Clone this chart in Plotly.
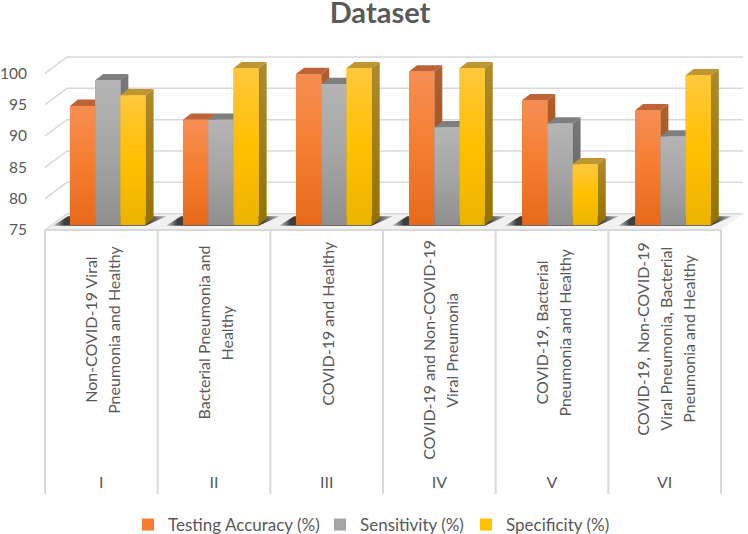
import numpy as np
import plotly.graph_objects as go

roman = ["I", "II", "III", "IV", "V", "VI"]
description_lines = [
    ["Non-COVID-19 Viral", "Pneumonia and Healthy"],
    ["Bacterial Pneumonia and", "Healthy"],
    ["COVID-19 and Healthy"],
    ["COVID-19 and Non-COVID-19", "Viral Pneumonia"],
    ["COVID-19, Bacterial", "Pneumonia and Healthy"],
    ["COVID-19, Non-COVID-19", "Viral Pneumonia, Bacterial", "Pneumonia and Healthy"],
]
series_names = ["Testing Accuracy (%)", "Sensitivity (%)", "Specificity (%)"]
testing_accuracy = [94.0, 91.8, 99.1, 99.5, 94.9, 93.3]
sensitivity = [98.1, 91.8, 97.5, 90.6, 91.2, 89.1]
specificity = [95.7, 100.0, 100.0, 100.0, 84.7, 98.9]
y_ticks = [75, 80, 85, 90, 95, 100]

series_values = [testing_accuracy, sensitivity, specificity]
front_scales = [
    [[0, "#E8691A"], [0.5, "#F57D2F"], [1, "#F58E54"]],
    [[0, "#8F8F8F"], [0.5, "#A5A5A5"], [1, "#B5B5B5"]],
    [[0, "#EBB400"], [0.5, "#FFC000"], [1, "#FFC83D"]],
]
side_scales = [
    [[0, "#964A1B"], [1, "#B0602E"]],
    [[0, "#606060"], [1, "#787878"]],
    [[0, "#947200"], [1, "#AF8A2C"]],
]
top_colors = ["#BD6337", "#7F7F7F", "#BF9630"]
legend_colors = ["#F57D2F", "#A5A5A5", "#FFC000"]
TEXT = "#595959"
GRID = "#D9D9D9"
FONT = "Lato"

# Pixel scales of the two planes (front axis plane, and the plane the bars stand on)
W, H = 748, 534
L, T, B = 44, 40, 40
PY = 6.268
PX_AXIS = 112.67
PX_BAR = 113.05
px_bottom = H - B
label_center_px = [330, 333, 323, 350, 333, 339]
LINE_PITCH = 23
legend_text_px = [168, 360, 506]


def y_range(zero_px):
    return [75 + (zero_px - px_bottom) / PY, 75 + (zero_px - T) / PY]


x_range = [-0.5 - 1 / PX_AXIS, -0.5 + (W - L - 1) / PX_AXIS]
x2_range = [(L - 107.75) / PX_BAR, (W - 107.75) / PX_BAR]
bargap = 0.331
bar_w = (1 - bargap) / 3
bar_dx = 8 / PX_BAR
bar_dy = 6.3 / PY
wall_dx = 22 / PX_AXIS
wall_dy = 16.3 / PY

fig = go.Figure()
n = len(roman)
left, right = -0.5, n - 0.5


def poly(x, y, xa, ya, **kw):
    fig.add_trace(go.Scatter(x=x, y=y, xaxis=xa, yaxis=ya, mode="none", fill="toself",
                             showlegend=False, hoverinfo="skip", **kw))


# floor
poly([left, right, right + wall_dx, left + wall_dx, left],
     [75, 75, 75 + wall_dy, 75 + wall_dy, 75], "x", "y", fillcolor="#F1F1F1")

# wall gridlines and axis tick labels
gx, gy = [], []
for v in y_ticks:
    gx += [left, left + wall_dx, right + wall_dx, None]
    gy += [v, v + wall_dy, v + wall_dy, None]
fig.add_trace(go.Scatter(x=gx, y=gy, xaxis="x", yaxis="y", mode="lines",
                         line=dict(color=GRID, width=1.5), showlegend=False, hoverinfo="skip"))

# front floor edge and category dividers
bottom_val = y_range(230)[0]
dx_, dy_ = [left, right, None], [75, 75, None]
for i in range(n + 1):
    dx_ += [left + i, left + i, None]
    dy_ += [75, bottom_val, None]
fig.add_trace(go.Scatter(x=dx_, y=dy_, xaxis="x", yaxis="y", mode="lines",
                         line=dict(color=GRID, width=2), showlegend=False, hoverinfo="skip"))

# Real bars, beneath their gradient faces; one positioned legend per series
legend_ids = ["legend", "legend2", "legend3"]
for s, name in enumerate(series_names):
    fig.add_trace(go.Bar(x=list(range(n)), y=np.array(series_values[s]) - 75, base=75,
                         name=name, xaxis="x2", yaxis="y2", legend=legend_ids[s],
                         marker=dict(color=legend_colors[s], line=dict(width=0))))

# floor shadows
for i in range(n):
    gl = i - 1.5 * bar_w
    gr = i + 1.5 * bar_w
    sx0, sx1 = gl - 17 / PX_BAR, gr + 21 / PX_BAR
    xs = [gl - 17 / PX_BAR, gr, gr + 21 / PX_BAR, gl - 2 / PX_BAR, gl - 17 / PX_BAR]
    ys = [74.9, 74.9, 76.4, 76.4, 74.9]
    poly(xs, ys, "x2", "y2",
         fillgradient=dict(type="horizontal", start=sx0, stop=sx1,
                           colorscale=[[0, "#CCCCCC"], [0.1, "#3E3E3E"], [0.85, "#3E3E3E"], [1, "#BBBBBB"]]))

# 3-D faces
for s in range(3):
    for i in range(n):
        v = series_values[s][i]
        a = i + (s - 1.5) * bar_w
        b = a + bar_w
        poly([a, b, b + bar_dx, a + bar_dx, a], [v, v, v + bar_dy, v + bar_dy, v], "x2", "y2",
             fillcolor=top_colors[s])
        poly([b, b + bar_dx, b + bar_dx, b, b], [75, 75 + bar_dy, v + bar_dy, v, 75], "x2", "y2",
             fillgradient=dict(type="vertical", start=75, stop=v + bar_dy, colorscale=side_scales[s]))
        poly([a, b, b, a, a], [75, 75, v, v, 75], "x2", "y2",
             fillgradient=dict(type="vertical", start=75, stop=v, colorscale=front_scales[s]))

annotations = []
for i, lines in enumerate(description_lines):
    for j, line in enumerate(lines):
        shift = (j - (len(lines) - 1) / 2) * LINE_PITCH / PX_AXIS
        annotations.append(dict(
            x=i + shift, y=75 + (230 - label_center_px[i]) / PY, xref="x", yref="y",
            text=line, textangle=-90, showarrow=False,
            font=dict(family=FONT, size=16, color=TEXT)))

legend_common = dict(orientation="h", xanchor="left",
                     y=(px_bottom - 525) / (H - T - B), yanchor="middle",
                     font=dict(family=FONT, size=17, color=TEXT), bgcolor="rgba(0,0,0,0)",
                     indentation=-10)
legend_layout = {lid: dict(x=(px - 30 - L) / (W - L), **legend_common)
                 for lid, px in zip(legend_ids, legend_text_px)}

fig.update_layout(
    width=W, height=H,
    paper_bgcolor="white", plot_bgcolor="white",
    margin=dict(l=L, r=0, t=T, b=B, pad=0, autoexpand=False),
    barmode="group", bargap=bargap,
    title=dict(text="<b>Dataset</b>", x=0.508, xanchor="center", y=0.976, yanchor="middle",
               font=dict(family=FONT, size=29, color=TEXT)),
    xaxis=dict(range=x_range, tickmode="array", tickvals=list(range(n)), ticktext=roman,
               ticklabelposition="inside", ticks="", showgrid=False, zeroline=False, showline=False,
               tickfont=dict(family=FONT, size=16, color=TEXT)),
    yaxis=dict(range=y_range(230), tickmode="array", tickvals=y_ticks, ticks="outside", ticklen=13,
               tickcolor="rgba(0,0,0,0)", showgrid=False, zeroline=False, showline=False,
               tickfont=dict(family=FONT, size=15.5, color=TEXT)),
    xaxis2=dict(range=x2_range, overlaying="x", visible=False),
    yaxis2=dict(range=y_range(225), overlaying="y", visible=False),
    annotations=annotations,
    **legend_layout,
)

fig.write_html("out.html", config={"displayModeBar": False},
               post_script="document.body.style.margin='0';document.body.style.overflow='hidden';")
